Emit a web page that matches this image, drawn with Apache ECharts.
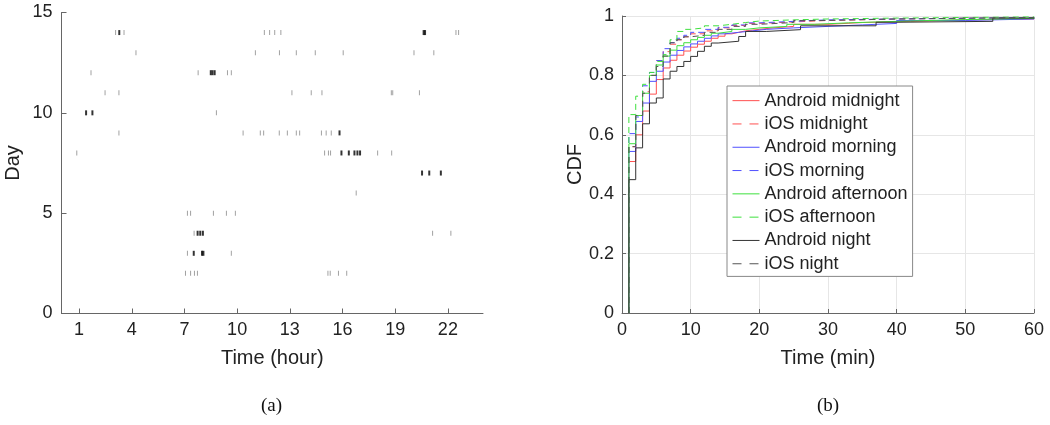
<!DOCTYPE html>
<html><head><meta charset="utf-8">
<script src="https://cdn.jsdelivr.net/npm/echarts@6/dist/echarts.min.js"></script>
<style>html,body{margin:0;padding:0;background:#fff}#c{width:1050px;height:425px}</style>
</head><body><div id="c"></div><script>
// ---- Panel (a): event times [hour, day] ----
const hourTicks = [1, 4, 7, 10, 13, 16, 19, 22];
const dayTicks = [0, 5, 10, 15];
const singleEvents = [
  [3.08,14],[3.56,14],[11.55,14],[11.85,14],[12.14,14],[12.49,14],[22.46,14],[22.61,14],
  [4.24,13],[11.04,13],[12.41,13],[13.37,13],[14.45,13],[16.04,13],[20.07,13],[21.2,13],
  [1.68,12],[7.78,12],[9.45,12],[9.67,12],
  [2.48,11],[3.27,11],[13.12,11],[14.22,11],[14.83,11],[18.78,11],[18.86,11],[20.38,11],
  [8.82,10],
  [3.27,9],[10.34,9],[11.32,9],[11.51,9],[12.4,9],[12.86,9],[13.37,9],[13.56,9],[14.8,9],[15.07,9],[15.36,9],
  [0.87,8],[14.98,8],[15.2,8],[15.32,8],[18.0,8],[18.8,8],
  [16.78,6],
  [7.17,5],[7.35,5],[8.65,5],[9.39,5],[9.9,5],
  [7.55,4],[21.13,4],[22.17,4],
  [7.17,3],[9.67,3],
  [7.06,2],[7.35,2],[7.57,2],[7.74,2],[15.17,2],[15.3,2],[15.77,2],[16.24,2]
];
const burstEvents = [
  [3.29,14],[20.62,14],[20.7,14],
  [8.5,12],[8.6,12],[8.72,12],
  [1.4,10],[1.76,10],
  [15.83,9],
  [15.94,8],[16.36,8],[16.68,8],[16.85,8],[17.0,8],
  [20.53,7],[20.94,7],[21.6,7],
  [7.75,4],[7.9,4],[8.05,4],
  [7.53,3],[8.0,3],[8.08,3]
];
// ---- Panel (b): CDF steps [minute, cdf] ----
const androidMidnight = [[1,.51],[2,.60],[3,.68],[4,.737],[5,.786],[6,.825],[7,.851],[8,.868],[9,.882],[10,.895],[11,.905],[12,.915],[13,.925],[14,.932],[15,.94],[16,.945],[17,.95],[18,.955],[20,.96],[22,.965],[25,.972],[30,.978],[35,.982],[42,.987],[50,.99],[60,.995]];
const iosMidnight = [[1,.56],[2,.665],[3,.745],[4,.80],[5,.85],[6,.88],[7,.905],[8,.92],[9,.93],[10,.94],[12,.95],[14,.96],[16,.968],[18,.975],[20,.98],[25,.985],[30,.99],[40,.995],[60,.997]];
const androidMorning = [[1,.544],[2,.645],[3,.707],[4,.78],[5,.814],[6,.845],[7,.868],[8,.884],[9,.896],[10,.906],[11,.915],[12,.925],[13,.933],[14,.94],[15,.945],[17,.95],[19,.955],[21,.96],[25,.965],[30,.97],[35,.975],[40,.985],[50,.99],[60,.995]];
const iosMorning = [[1,.604],[2,.66],[3,.765],[4,.81],[5,.85],[6,.89],[7,.91],[8,.925],[9,.935],[10,.945],[12,.955],[14,.962],[16,.97],[18,.977],[20,.982],[25,.987],[30,.99],[40,.995],[60,.997]];
const androidAfternoon = [[1,.57],[2,.665],[3,.74],[4,.80],[5,.835],[6,.865],[7,.885],[8,.90],[9,.91],[10,.92],[11,.928],[12,.935],[13,.942],[14,.948],[16,.955],[18,.96],[20,.965],[24,.972],[28,.977],[33,.982],[40,.988],[50,.992],[60,.996]];
const iosAfternoon = [[1,.668],[2,.73],[3,.77],[4,.81],[5,.847],[6,.87],[7,.92],[8,.948],[9,.955],[10,.96],[12,.967],[14,.972],[16,.978],[18,.983],[20,.987],[25,.99],[30,.993],[40,.997],[60,.997]];
const androidNight = [[1,.449],[2,.556],[3,.637],[4,.707],[5,.724],[6,.788],[7,.814],[8,.83],[9,.847],[10,.864],[11,.881],[12,.898],[13,.909],[14,.915],[17,.931],[18,.948],[21,.954],[26,.967],[37,.979],[40,.982],[54,.993],[60,.993]];
const iosNight = [[1,.56],[2,.665],[3,.74],[4,.80],[5,.83],[6,.865],[7,.91],[8,.92],[9,.93],[10,.935],[12,.945],[14,.955],[16,.965],[18,.972],[20,.978],[25,.985],[30,.99],[40,.995],[60,.997]];

const seriesDefs = [
  ['Android midnight', androidMidnight, '#ff5050', 'solid'],
  ['iOS midnight', iosMidnight, '#ff5050', 'dashed'],
  ['Android morning', androidMorning, '#5050ff', 'solid'],
  ['iOS morning', iosMorning, '#5050ff', 'dashed'],
  ['Android afternoon', androidAfternoon, '#3ee03e', 'solid'],
  ['iOS afternoon', iosAfternoon, '#3ee03e', 'dashed'],
  ['Android night', androidNight, '#333333', 'solid'],
  ['iOS night', iosNight, '#555555', 'dashed']
];

const FONT = 'Liberation Sans';
const TXT = '#222';
const AX = '#666';

const cdfSeries = seriesDefs.map(([name, pts, color, type]) => ({
  name, type: 'line', xAxisIndex: 1, yAxisIndex: 1, step: 'end', symbol: 'none',
  data: [[pts[0][0], 0]].concat(pts),
  lineStyle: { color, width: 1, type: type === 'dashed' ? [6, 4] : 'solid' },
  itemStyle: { color }, silent: true, animation: false
}));

const option = {
  animation: false,
  textStyle: { fontFamily: FONT },
  grid: [
    { left: 61.5, top: 12.5, width: 421.5, height: 301 },
    { left: 622, top: 16, width: 412, height: 297 }
  ],
  xAxis: [
    { gridIndex: 0, type: 'value', min: 0, max: 24,
      name: 'Time (hour)', nameLocation: 'middle', nameGap: 35,
      nameTextStyle: { fontSize: 20, color: TXT, fontFamily: FONT },
      axisLine: { lineStyle: { color: AX } },
      axisTick: { inside: true, length: 5, lineStyle: { color: AX }, customValues: hourTicks },
      axisLabel: { fontSize: 18, color: TXT, margin: 8, customValues: hourTicks },
      splitLine: { show: false } },
    { gridIndex: 1, type: 'value', min: 0, max: 60, interval: 10,
      name: 'Time (min)', nameLocation: 'middle', nameGap: 35,
      nameTextStyle: { fontSize: 20, color: TXT, fontFamily: FONT },
      axisLine: { lineStyle: { color: AX } },
      axisTick: { inside: true, length: 4, lineStyle: { color: AX } },
      axisLabel: { fontSize: 18, color: TXT, margin: 8 },
      splitLine: { show: true, lineStyle: { color: '#e6e6e6' } } }
  ],
  yAxis: [
    { gridIndex: 0, type: 'value', min: 0, max: 15, interval: 5,
      name: 'Day', nameLocation: 'middle', nameGap: 38,
      nameTextStyle: { fontSize: 20, color: TXT, fontFamily: FONT },
      axisLine: { show: true, lineStyle: { color: AX } },
      axisTick: { show: true, inside: true, length: 5, lineStyle: { color: AX } },
      axisLabel: { fontSize: 18, color: TXT, margin: 9 },
      splitLine: { show: false } },
    { gridIndex: 1, type: 'value', min: 0, max: 1, interval: 0.2,
      name: 'CDF', nameLocation: 'middle', nameGap: 36,
      nameTextStyle: { fontSize: 20, color: TXT, fontFamily: FONT },
      axisLine: { show: true, lineStyle: { color: AX } },
      axisTick: { show: true, inside: true, length: 4, lineStyle: { color: AX } },
      axisLabel: { fontSize: 18, color: TXT, margin: 8,
        formatter: v => (v === 0 || v === 1) ? String(v) : v.toFixed(1) },
      splitLine: { show: true, lineStyle: { color: '#e6e6e6' } } }
  ],
  legend: {
    orient: 'vertical', left: 727, top: 86,
    padding: [3, 5, 1, 5], itemGap: 0, itemWidth: 27, itemHeight: 14,
    backgroundColor: '#fff', borderColor: '#888', borderWidth: 1,
    textStyle: { fontSize: 18, color: TXT, fontFamily: FONT, lineHeight: 23.3 },
    data: seriesDefs.map(([name, , color, type]) => ({
      name,
      itemStyle: { opacity: 0 },
      lineStyle: { color, width: 1, opacity: 1, type: type === 'dashed' ? [9, 8] : 'solid' }
    }))
  },
  graphic: [
    { type: 'text', left: 261, top: 397, style: { text: '(a)', font: '19px "Liberation Serif"', fill: '#111' } },
    { type: 'text', left: 817, top: 397, style: { text: '(b)', font: '19px "Liberation Serif"', fill: '#111' } }
  ],
  series: [
    { type: 'scatter', xAxisIndex: 0, yAxisIndex: 0, symbol: 'rect', symbolSize: [1, 5],
      data: singleEvents, itemStyle: { color: '#8a8a8a' }, silent: true },
    { type: 'scatter', xAxisIndex: 0, yAxisIndex: 0, symbol: 'rect', symbolSize: [2, 5],
      data: burstEvents, itemStyle: { color: '#000' }, silent: true }
  ].concat(cdfSeries)
};
const chart = echarts.init(document.getElementById('c'), null, { renderer: 'canvas' });
chart.setOption(option);
</script></body></html>
